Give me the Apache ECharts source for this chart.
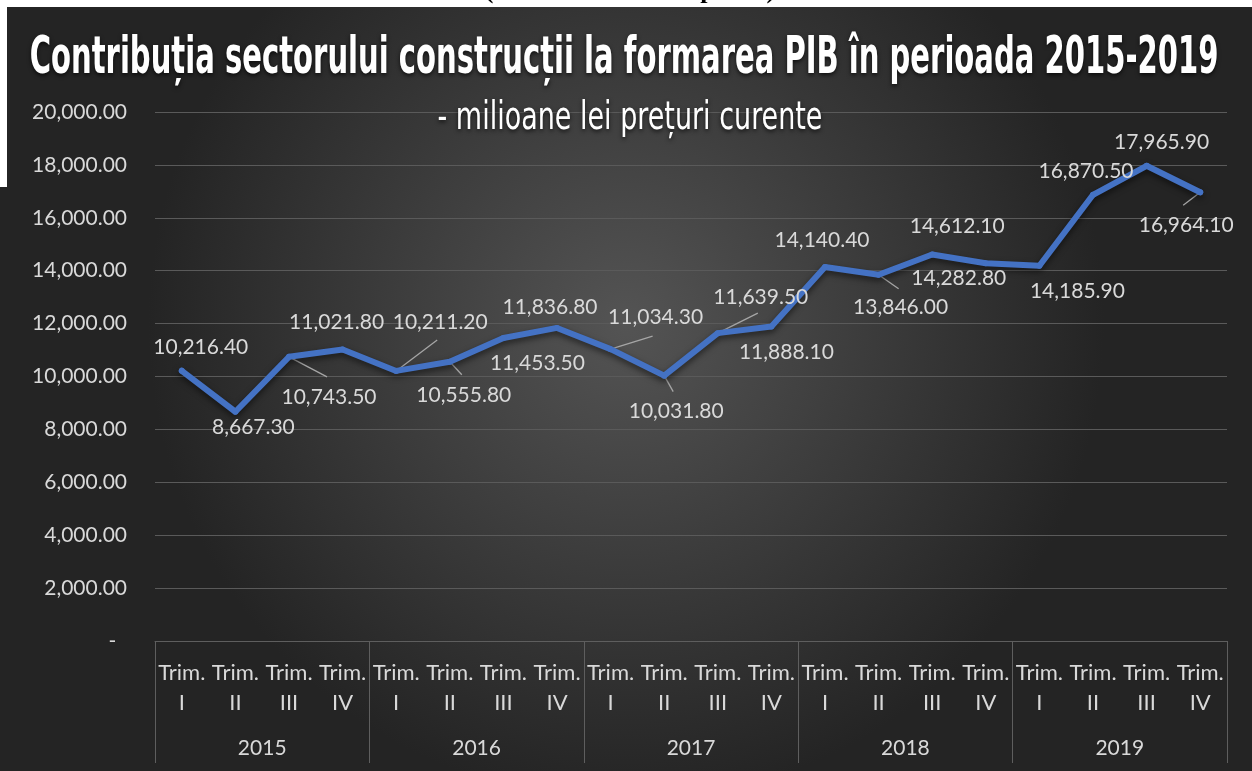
<!DOCTYPE html>
<html>
<head>
<meta charset="utf-8">
<script src="https://cdn.jsdelivr.net/npm/echarts@6/dist/echarts.min.js"></script>
<style>
  html, body { margin: 0; padding: 0; background: #fff; }
  #main { width: 1252px; height: 771px; }
</style>
</head>
<body>
<div id="main"></div>
<script>
// date: PIB constructii, milioane lei
const years = ['2015', '2016', '2017', '2018', '2019'];
const quarters = ['I', 'II', 'III', 'IV'];
const values = [
  10216.4, 8667.3, 10743.5, 11021.8,
  10211.2, 10555.8, 11453.5, 11836.8,
  11034.3, 10031.8, 11639.5, 11888.1,
  14140.4, 13846.0, 14612.1, 14282.8,
  14185.9, 16870.5, 17965.9, 16964.1
];

// pozitia etichetelor fata de punct (dx, dy)
const labelOffsets = [
  [19, -24], [18, 15], [40, 40], [-6, -27],
  [44, -49], [14, 33], [34, 25], [-7, -21],
  [45, -32], [12, 36], [43, -36], [15, 26],
  [-3, -27], [22, 32], [25, -28], [-27, 15],
  [38, 25], [-7, -24], [15, -24], [-14, 33]
];
// liniile de legatura: index punct -> capat (dx, dy)
const leaderIdx = [2, 4, 5, 8, 9, 10, 13, 19];
const leaderEnds = [[38, 20], [41, -31], [12, 13], [42, -13], [9, 16], [40, -20], [20, 14], [-17, 13]];

const categories = [];
years.forEach(() => quarters.forEach(q => categories.push('Trim.\n' + q)));

const fmt = v => v.toLocaleString('en-US', { minimumFractionDigits: 2, maximumFractionDigits: 2 });

const chart = echarts.init(document.getElementById('main'));
const txt = '#d9d9d9';
const font = 'Lato';
const titleFont = '"Liberation Sans Narrow", "DejaVu Sans Condensed", sans-serif';

chart.setOption({
  backgroundColor: {
    type: 'radial', x: 0.5, y: 0.42, r: 0.62,
    colorStops: [
      { offset: 0, color: '#545454' },
      { offset: 1, color: '#242424' }
    ]
  },
  animation: false,
  graphic: [
    { type: 'rect', left: 0, top: 0, shape: { width: 1252, height: 7 }, style: { fill: '#fff' }, z: 10 },
    { type: 'rect', left: 0, top: 0, shape: { width: 7, height: 187 }, style: { fill: '#fff' }, z: 10 },
    {
      type: 'text', x: 630, y: 4, z: 11,
      style: {
        text: '(million lei current prices)', fill: '#000',
        font: 'bold 26px "Liberation Serif", serif',
        textAlign: 'center', textVerticalAlign: 'bottom'
      }
    },
    {
      type: 'text', x: 624, y: 60, scaleX: 1.077, scaleY: 1.72, z: 11,
      style: {
        text: 'Contribuția sectorului construcții la formarea PIB în perioada 2015-2019',
        fill: '#fff', font: 'bold 30px ' + titleFont,
        textAlign: 'center', textVerticalAlign: 'middle',
        textShadowColor: 'rgba(0,0,0,0.7)', textShadowBlur: 4, textShadowOffsetY: 2
      }
    },
    {
      type: 'text', x: 630, y: 119, scaleY: 1.3, z: 11,
      style: {
        text: '- milioane lei prețuri curente',
        fill: '#fff', font: '30px ' + titleFont,
        textAlign: 'center', textVerticalAlign: 'middle',
        textShadowColor: 'rgba(0,0,0,0.7)', textShadowBlur: 4, textShadowOffsetY: 2
      }
    }
  ],
  grid: { left: 155, right: 25, top: 112, bottom: 130 },
  xAxis: [
    {
      type: 'category', data: categories, boundaryGap: true,
      axisLine: { show: true, lineStyle: { color: '#5e5e5e', width: 1 } },
      axisTick: { show: false },
      axisLabel: { interval: 0, color: txt, fontFamily: font, fontSize: 22, lineHeight: 30, margin: 17 }
    },
    {
      type: 'category', data: years, position: 'bottom', boundaryGap: true,
      axisLine: { show: false },
      axisTick: { show: true, interval: 0, length: 122, lineStyle: { color: '#5e5e5e', width: 1 } },
      axisLabel: { interval: 0, color: txt, fontFamily: font, fontSize: 21, lineHeight: 24, margin: 95 }
    }
  ],
  yAxis: {
    type: 'value', min: 0, max: 20000, interval: 2000,
    axisLine: { show: false }, axisTick: { show: false },
    splitLine: { lineStyle: { color: '#5a5a5a', width: 1 } },
    axisLabel: {
      color: txt, fontFamily: font, fontSize: 21, margin: 28,
      formatter: v => v === 0 ? '-  ' : fmt(v)
    }
  },
  series: [
    {
      // linii de legatura pentru etichete
      type: 'custom', xAxisIndex: 0, z: 1, silent: true,
      data: leaderIdx.map(i => [i, values[i]]),
      renderItem: (params, api) => {
        const p = api.coord([api.value(0), api.value(1)]);
        const e = leaderEnds[params.dataIndex];
        return {
          type: 'line',
          shape: { x1: p[0], y1: p[1], x2: p[0] + e[0], y2: p[1] + e[1] },
          style: { stroke: '#a6a6a6', lineWidth: 1.3 }
        };
      }
    },
    {
      type: 'line', xAxisIndex: 0, z: 2,
      data: values,
      symbol: 'circle', symbolSize: 6, showSymbol: true,
      itemStyle: { color: '#4472c4' },
      lineStyle: {
        color: '#4472c4', width: 6, cap: 'round', join: 'round',
        shadowColor: 'rgba(0,0,0,0.55)', shadowBlur: 6, shadowOffsetY: 3
      },
      label: {
        show: true, position: 'inside', color: txt, fontFamily: font, fontSize: 21,
        formatter: p => fmt(p.value)
      },
      labelLayout: p => ({ dx: labelOffsets[p.dataIndex][0], dy: labelOffsets[p.dataIndex][1] })
    }
  ]
});
</script>
</body>
</html>
